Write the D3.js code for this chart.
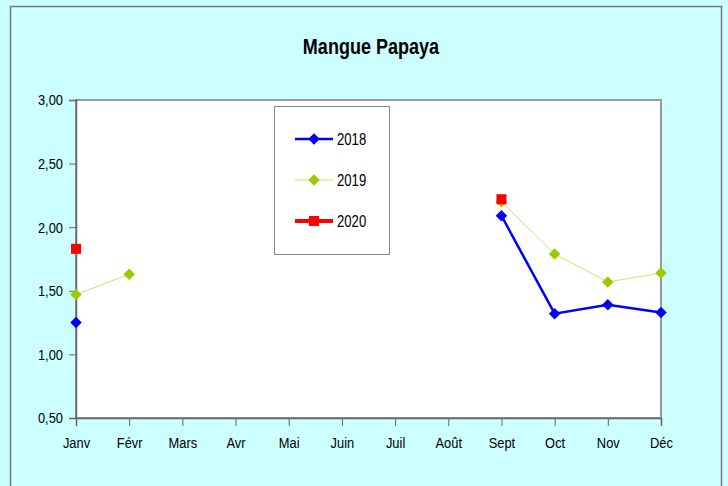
<!DOCTYPE html>
<html>
<head>
<meta charset="utf-8">
<script src="https://cdn.jsdelivr.net/npm/d3@7"></script>
<style>
  html, body { margin: 0; padding: 0; background: #ccffff; }
  svg { display: block; font-family: "Liberation Sans", Arial, sans-serif; }
</style>
</head>
<body>
<svg id="chart" width="728" height="486"></svg>
<script>
const months = ['Janv', 'Févr', 'Mars', 'Avr', 'Mai', 'Juin', 'Juil', 'Août', 'Sept', 'Oct', 'Nov', 'Déc'];
const values2018 = [1.25, null, null, null, null, null, null, null, 2.09, 1.32, 1.39, 1.33];
const values2019 = [1.47, 1.63, null, null, null, null, null, null, 2.20, 1.79, 1.57, 1.64];
const values2020 = [1.83, null, null, null, null, null, null, null, 2.22, null, null, null];
const yTicks = [0.5, 1.0, 1.5, 2.0, 2.5, 3.0];

const series = [
  { name: '2018', values: values2018, line: '#0000ff', fill: '#0000ff', width: 2.5, shape: 'diamond' },
  { name: '2019', values: values2019, line: '#c8e666', fill: '#99cc00', width: 1, shape: 'diamond' },
  { name: '2020', values: values2020, line: '#ff0000', fill: '#ff0000', width: 4, shape: 'square' }
];

const svg = d3.select('#chart');
const plot = { left: 76, right: 661, top: 100, bottom: 418 };
const narrow = 0.86; // the original uses a condensed face

// outer frame
svg.append('rect')
  .attr('x', 10.5).attr('y', 6.5)
  .attr('width', 711).attr('height', 490)
  .attr('fill', '#ccffff')
  .attr('stroke', '#777').attr('stroke-width', 1.5);

svg.append('text')
  .attr('transform', 'translate(371,54) scale(0.82,1)')
  .attr('text-anchor', 'middle')
  .style('font-size', '22px').style('font-weight', 'bold')
  .text('Mangue Papaya');

const x = d3.scalePoint().domain(months).range([plot.left, plot.right]);
const y = d3.scaleLinear().domain([0.5, 3]).range([plot.bottom, plot.top]);

// plot background with grey border
svg.append('rect')
  .attr('x', plot.left).attr('y', plot.top)
  .attr('width', plot.right - plot.left).attr('height', plot.bottom - plot.top)
  .attr('fill', '#fff')
  .attr('stroke', '#999').attr('stroke-width', 2);

const fmt = d => d.toFixed(2).replace('.', ',');

const yAxis = svg.append('g')
  .attr('transform', 'translate(' + plot.left + ',0)')
  .call(d3.axisLeft(y).tickValues(yTicks).tickFormat(fmt).tickSize(7));
yAxis.select('.domain').attr('stroke', '#666').attr('stroke-width', 1.5);
yAxis.selectAll('.tick line').attr('stroke', '#666');
yAxis.selectAll('text')
  .style('font-size', '15px').attr('fill', '#000')
  .attr('x', -13 / narrow)
  .attr('transform', 'scale(' + narrow + ',1)');

const xAxis = svg.append('g')
  .attr('transform', 'translate(0,' + plot.bottom + ')')
  .call(d3.axisBottom(x).tickSize(8));
xAxis.select('.domain').attr('stroke', '#666').attr('stroke-width', 1.5);
xAxis.selectAll('.tick line').attr('stroke', '#666');
xAxis.selectAll('text')
  .style('font-size', '15px').attr('fill', '#000')
  .attr('dy', null).attr('y', 30)
  .attr('transform', 'scale(' + narrow + ',1)');

const line = d3.line()
  .defined(d => d.v !== null)
  .x(d => x(d.m))
  .y(d => y(d.v));

const diamond = d3.symbol().type(d3.symbolSquare).size(66);

function marker(g, shape, color, cx, cy) {
  if (shape === 'diamond') {
    g.append('path')
      .attr('d', diamond())
      .attr('transform', 'translate(' + cx + ',' + cy + ') rotate(45)')
      .attr('fill', color);
  } else {
    g.append('rect')
      .attr('x', cx - 5).attr('y', cy - 5)
      .attr('width', 10).attr('height', 10)
      .attr('fill', color);
  }
}

series.forEach(s => {
  const pts = months.map((m, i) => ({ m: m, v: s.values[i] }));
  const g = svg.append('g');
  g.append('path')
    .datum(pts)
    .attr('d', line)
    .attr('fill', 'none')
    .attr('stroke', s.line)
    .attr('stroke-width', s.width);
  pts.filter(d => d.v !== null).forEach(d => {
    marker(g, s.shape, s.fill, x(d.m), y(d.v));
  });
});

// legend
const legend = svg.append('g');
legend.append('rect')
  .attr('x', 274.5).attr('y', 106.5)
  .attr('width', 115).attr('height', 148)
  .attr('fill', '#fff')
  .attr('stroke', '#888').attr('stroke-width', 1);

series.forEach((s, i) => {
  const ly = 139 + i * 41;
  legend.append('line')
    .attr('x1', 295).attr('x2', 333)
    .attr('y1', ly).attr('y2', ly)
    .attr('stroke', s.line).attr('stroke-width', s.width);
  marker(legend, s.shape, s.fill, 314, ly);
  legend.append('text')
    .attr('transform', 'translate(337,' + (ly + 6) + ') scale(0.82,1)')
    .style('font-size', '16px')
    .text(s.name);
});
</script>
</body>
</html>
